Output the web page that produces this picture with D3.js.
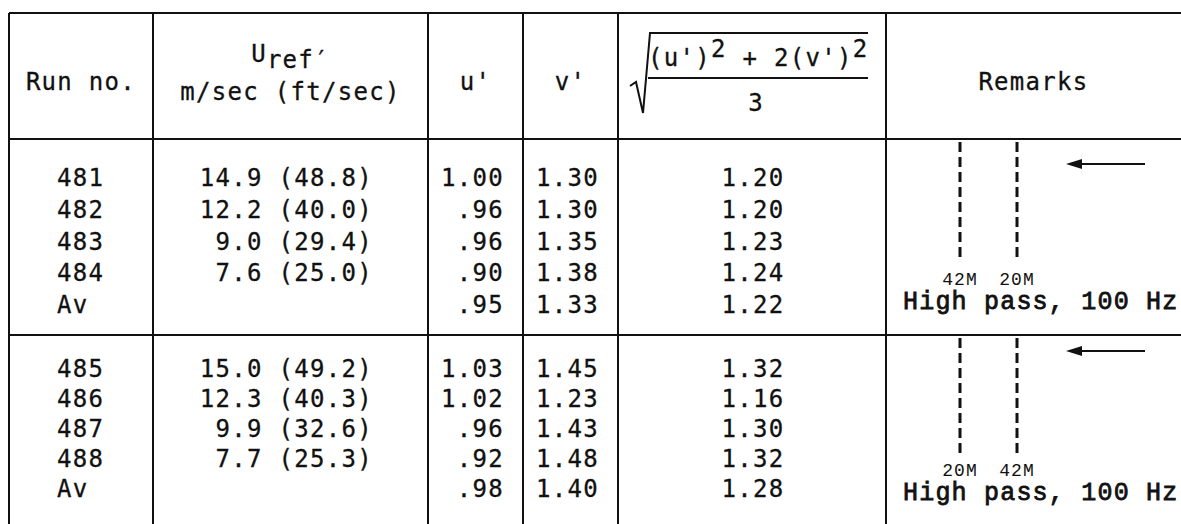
<!DOCTYPE html>
<html lang="en">
<head>
    <meta charset="UTF-8">
    <title>Turbulence runs table</title>
    <style>
        body { margin: 0; background: #fff; }
        svg { display: block; }
        .cell { font-family: "DejaVu Sans Mono", monospace; font-size: 24px; fill: #111;
                letter-spacing: 1.3px; stroke: #111; stroke-width: 0.3px; }
        .typed { font-family: "Liberation Mono", monospace; fill: #111; }
        .rule { stroke: #111; stroke-width: 2; }
    </style>
</head>
<body>
    <script src="https://d3js.org/d3.v7.min.js"></script>
    <script>
        // table values, one entry per row (two groups of five rows)
        const runNo = ["481", "482", "483", "484", "Av", "485", "486", "487", "488", "Av"];
        const uRefMs = [14.9, 12.2, 9.0, 7.6, null, 15.0, 12.3, 9.9, 7.7, null];
        const uRefFts = [48.8, 40.0, 29.4, 25.0, null, 49.2, 40.3, 32.6, 25.3, null];
        const uPrime = [1.00, .96, .96, .90, .95, 1.03, 1.02, .96, .92, .98];
        const vPrime = [1.30, 1.30, 1.35, 1.38, 1.33, 1.45, 1.23, 1.43, 1.48, 1.40];
        const rmsValue = [1.20, 1.20, 1.23, 1.24, 1.22, 1.32, 1.16, 1.30, 1.32, 1.28];
        const probeOrder = [["42M", "20M"], ["20M", "42M"]];
        const filterNote = "High pass, 100 Hz";
        const colKeys = ["run", "uref", "u", "v", "rms", "remarks"];

        const W = 1181, H = 524;
        const svg = d3.select("body").append("svg")
            .attr("width", W)
            .attr("height", H);

        // column boundaries
        const colEdge = d3.scaleOrdinal().domain(colKeys.concat(["end"]))
            .range([9, 153, 428, 523, 618, 886, 1181]);
        const colMid = k => (colEdge(k) + colEdge(colKeys[colKeys.indexOf(k) + 1] || "end")) / 2;

        const tableTop = 13, headBottom = 139, groupSplit = 335;
        const groupTop = [headBottom, groupSplit];
        // row baselines inside each group
        const rowY = [
            d3.scaleLinear().domain([0, 4]).range([186, 313]),
            d3.scaleLinear().domain([0, 4]).range([377, 497])
        ];
        const y = i => rowY[Math.floor(i / 5)](i % 5);

        const twoDec = v => d3.format(".2f")(v).replace(/^0/, "");
        const oneDec = d3.format(".1f");

        // grid
        [tableTop, headBottom, groupSplit].forEach(yy => {
            svg.append("line").attr("class", "rule")
                .attr("x1", colEdge("run")).attr("x2", W)
                .attr("y1", yy).attr("y2", yy);
        });
        colKeys.forEach(k => {
            svg.append("line").attr("class", "rule")
                .attr("x1", colEdge(k)).attr("x2", colEdge(k))
                .attr("y1", tableTop).attr("y2", H);
        });

        // header
        const head = svg.append("g").attr("class", "cell");
        head.append("text").attr("x", colMid("run")).attr("y", 90)
            .attr("text-anchor", "middle").text("Run no.");
        const uref = head.append("text").attr("x", colMid("uref")).attr("y", 62)
            .attr("text-anchor", "middle");
        uref.append("tspan").text("U");
        uref.append("tspan").attr("dy", 6).text("ref′");
        head.append("text").attr("x", colMid("uref")).attr("y", 100)
            .attr("text-anchor", "middle").text("m/sec (ft/sec)");
        head.append("text").attr("x", colMid("u")).attr("y", 90)
            .attr("text-anchor", "middle").text("u'");
        head.append("text").attr("x", colMid("v")).attr("y", 90)
            .attr("text-anchor", "middle").text("v'");
        head.append("text").attr("x", colMid("remarks")).attr("y", 90)
            .attr("text-anchor", "middle").text("Remarks");

        // square-root formula header
        const rx = colEdge("rms");
        svg.append("path")
            .attr("d", `M${rx + 12},86 L${rx + 18},82 L${rx + 25},113 L${rx + 32},33 L${rx + 250},33`)
            .attr("fill", "none").attr("stroke", "#111").attr("stroke-width", 2);
        const num = head.append("text").attr("x", rx + 30).attr("y", 66);
        [["(u')", 0], ["2", -9], [" + 2(v')", 9], ["2", -9]].forEach(([t, dy]) => {
            num.append("tspan").attr("dy", dy).text(t);
        });
        svg.append("line").attr("class", "rule").attr("stroke-width", 2.5)
            .attr("x1", rx + 30).attr("x2", rx + 250).attr("y1", 78).attr("y2", 78);
        head.append("text").attr("x", rx + 138).attr("y", 111)
            .attr("text-anchor", "middle").text("3");

        // body rows
        const body = svg.append("g").attr("class", "cell");
        body.selectAll(".run").data(runNo).join("text")
            .attr("x", 57).attr("y", (d, i) => y(i)).text(d => d);
        body.selectAll(".uref").data(uRefMs).join("text")
            .attr("x", 373).attr("y", (d, i) => y(i))
            .attr("text-anchor", "end")
            .text((d, i) => d == null ? "" : `${oneDec(d)} (${oneDec(uRefFts[i])})`);
        body.selectAll(".u").data(uPrime).join("text")
            .attr("x", 504).attr("y", (d, i) => y(i))
            .attr("text-anchor", "end").text(twoDec);
        body.selectAll(".v").data(vPrime).join("text")
            .attr("x", 599).attr("y", (d, i) => y(i))
            .attr("text-anchor", "end").text(twoDec);
        body.selectAll(".rms").data(rmsValue).join("text")
            .attr("x", colMid("rms") + 1).attr("y", (d, i) => y(i))
            .attr("text-anchor", "middle").text(twoDec);

        // remarks sketch: probe positions, flow arrow, filter note
        const probeX = [960, 1017];
        const arrowY = [164, 351];
        const noteY = [309, 500];
        probeOrder.forEach((names, g) => {
            const top = groupTop[g];
            const rem = svg.append("g");
            probeX.forEach((px, j) => {
                rem.append("line")
                    .attr("x1", px).attr("x2", px)
                    .attr("y1", top + 3).attr("y2", top + 121)
                    .attr("stroke", "#111").attr("stroke-width", 3)
                    .attr("stroke-dasharray", "10,5");
                rem.append("text").attr("class", "typed")
                    .attr("x", px).attr("y", noteY[g] - 24)
                    .attr("text-anchor", "middle")
                    .style("font-size", "18px").style("letter-spacing", "1px")
                    .text(names[j]);
            });
            const ay = arrowY[g];
            rem.append("line").attr("x1", 1145).attr("x2", 1078)
                .attr("y1", ay).attr("y2", ay)
                .attr("stroke", "#111").attr("stroke-width", 2);
            rem.append("path")
                .attr("d", `M1066,${ay} L1082,${ay - 5} L1082,${ay + 5} Z`)
                .attr("fill", "#111");
            rem.append("text").attr("class", "typed")
                .attr("x", 903).attr("y", noteY[g])
                .style("font-size", "25px").style("letter-spacing", "1.2px")
                .style("stroke", "#111").style("stroke-width", "0.8px")
                .text(filterNote);
        });
    </script>
</body>
</html>
